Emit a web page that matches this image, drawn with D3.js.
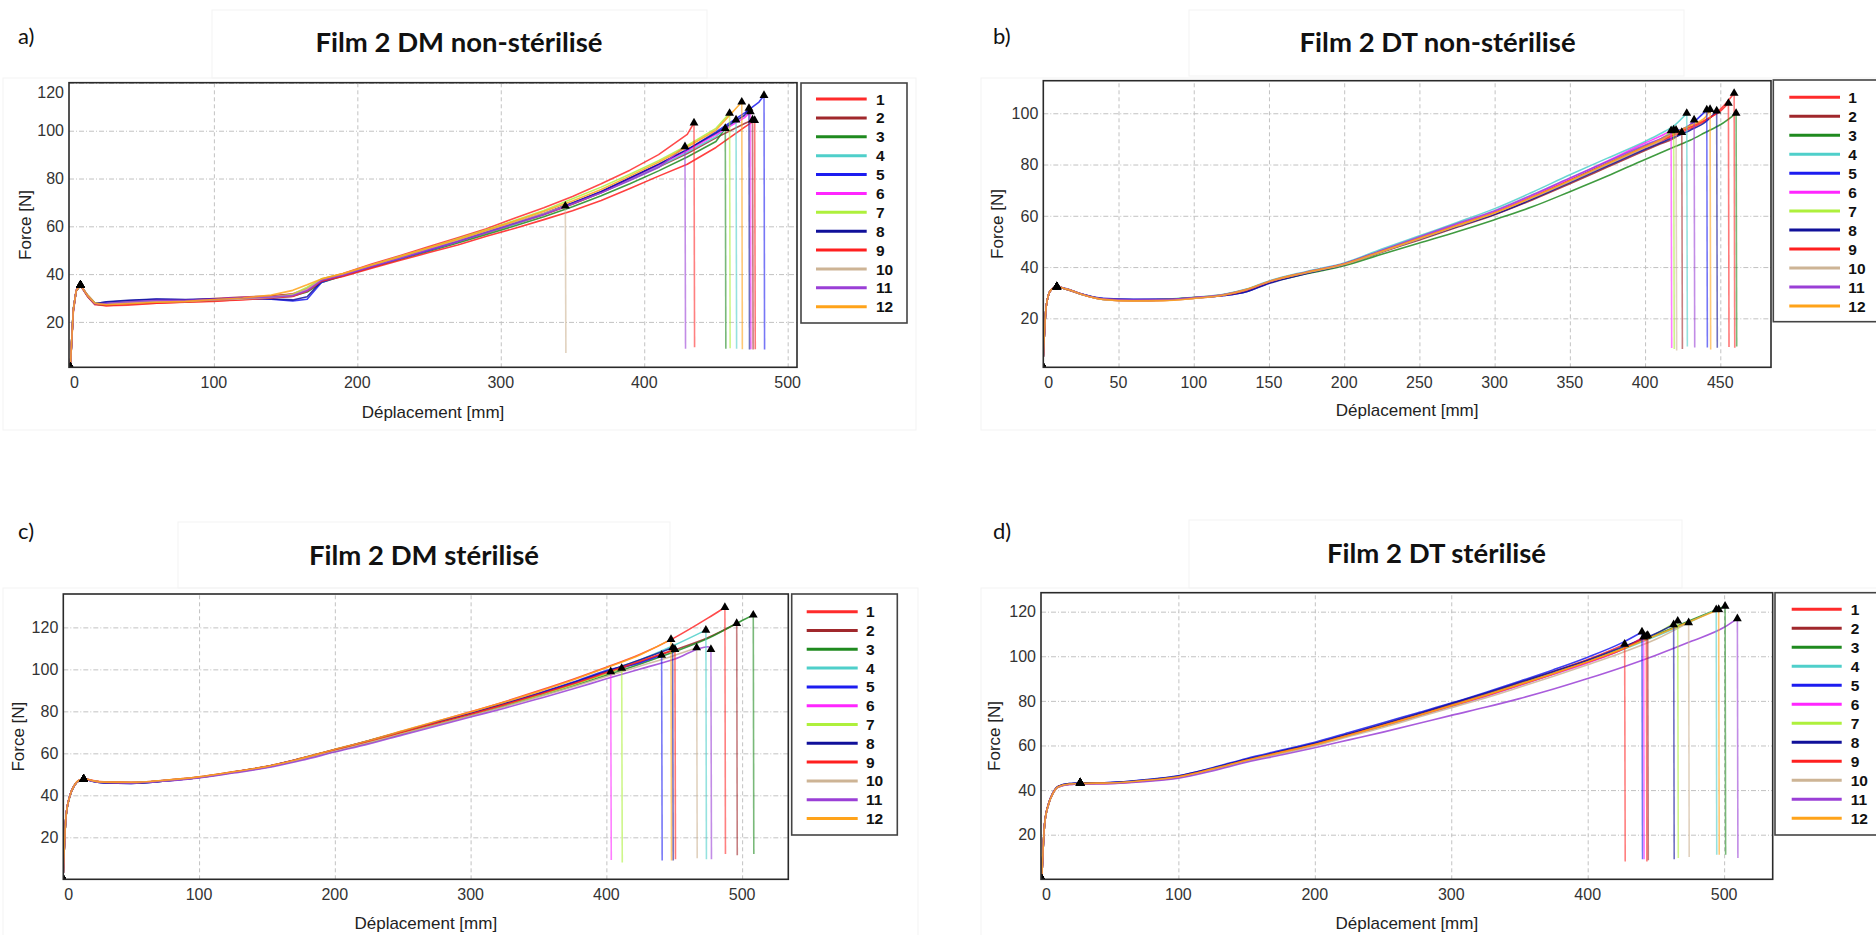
<!DOCTYPE html>
<html><head><meta charset="utf-8">
<script src="https://cdn.jsdelivr.net/npm/d3@7"></script>
<style>body{margin:0;background:#fff}svg{display:block}</style>
</head><body><svg id="c" width="1876" height="935"></svg>
<script>
// ---------- DATA ----------
const seriesNames = ['1','2','3','4','5','6','7','8','9','10','11','12'];
const colors = ['#ff2b2b','#a0282c','#1f8a1f','#4fcfca','#1c1cf0','#ff26ff','#aef03c','#10109a','#ff1f1f','#cdb495','#9a3fd6','#ffa31a'];

// Panel a : Film 2 DM non-stérilisé
const aTitle = 'Film 2 DM non-stérilisé';
const aXTicks = [0,100,200,300,400,500];
const aYTicks = [20,40,60,80,100,120];
const aX = [0,2,4,7,12,17,25,40,60,80,100,120,140,155,165,175,190,210,230,250,270,290,310,330,350,370,390,410,430,450,470,480];
const aF = [
 [1.5,24,33,35.2,30.5,27.2,26.8,27,27.8,28.3,28.6,29.5,30.8,31.8,34,37.8,40.2,44.2,47.8,51.5,55.2,59,63.5,67.8,72.5,77.8,83.5,90,98.5],
 [2,25,33.2,35.4,31.2,28,27.6,28.2,28.4,29,29.8,30.4,30.8,31.5,33.5,37.2,39.8,43.5,47.2,50.5,53.5,57.2,61,64.8,69.2,74,79.5,84.8,90.5,97,103],
 [2,25.5,33,35.3,31,27.5,27,27.8,28.2,28.6,29.2,29.8,30.2,30.8,32.5,36.5,39.2,42.8,46.2,49.6,53,56.6,60.2,64,68.2,72.8,77.8,83.2,89,95.5],
 [2,25,32.8,35.2,30.8,27.4,27.2,27.6,28.2,28.4,29,29.6,30,30.8,33.2,37,39.6,43,46.6,50,53.6,57.4,61,65.2,69.8,74.2,79.5,85,91,97.5],
 [2,24.8,33,35.4,31,27.8,28.2,28.8,29.5,29.2,29.5,29.8,29.5,28.8,29.5,36.5,39.5,43,46.5,50,53.8,57.8,61.5,65.2,69.8,74.5,80.2,85.8,92,99.5,107.5,112],
 [2,25,33.2,35.5,31,27.6,27.4,28,28.8,29,29.6,30.2,30.5,31.2,33.5,37.5,39.4,43.2,46.8,50.2,53.8,57.6,61.4,65.2,69.6,74.4,80,85.6,91.6,98.4,105.5],
 [2,25,33,35.3,31.2,28,27.6,28.4,28.6,28.5,29,29.6,30.4,31.6,34.5,38,40,43.8,47.5,51,54.8,58.6,62.5,66.6,71.5,76.4,81.8,87.5,93.8,101],
 [2,25,33,35.4,30.8,27.6,28.4,29,29.6,29.4,29.6,30,29.6,29.2,30.5,37,39.6,43.2,46.8,50.2,53.8,57.6,61.4,65.4,69.8,74.6,80.2,86,92.2,99,106.5],
 [2,24.8,33,35.3,30.8,27.5,26.8,27.4,27.8,28.2,28.8,29.2,30,30.6,32.8,37,39,42.5,45.8,49,52.2,55.8,59.2,62.8,66.5,70.8,75.8,81,86,93,101.5],
 [2,25,33,35.4,31,27.8,27.4,27.8,28.4,28.6,29.2,29.6,30.2,31.2,33.8,37.6,39.8,43.6,47,50.6,54.2,58,61.8,65.5],
 [2,25,33,35.4,31,27.6,27.8,28.4,29,29,29.4,30,30.4,31,33,37.4,39.6,43.2,46.6,50.2,53.6,57.4,61.2,65,69.4,74,79.2,84.6],
 [2,25,33,35.4,31,27.8,27.2,27.6,28.2,28.6,29.4,30,31.2,33.2,35.5,38,40.2,43.8,47.4,51,54.6,58.4,62.2,66.2,70.6,75.4,81,86.8,93.2,100.2]
];
const aBreak = [[434.7,103.3],[475.5,104.5],[456.5,101],[464,104.5],[483.5,114.8],[474,108],[459.5,107.3],[473,109.4],[477,104.3],[345,68.5],[428.4,93.3],[468,112]];
const aDropEnd = [9.4,8.5,8.8,8.8,8.5,8.6,9,8.5,8.6,7,8.8,8.6];
const aYield = [7,35.4];

// Panel b : Film 2 DT non-stérilisé
const bTitle = 'Film 2 DT non-stérilisé';
const bXTicks = [0,50,100,150,200,250,300,350,400,450];
const bYTicks = [20,40,60,80,100];
const bX = [0,2,5,9,15,25,40,60,80,100,120,135,150,175,200,225,250,275,300,325,350,375,400,410,420,430,440,450];
const bF = [
 [5,25,31,32.3,31.4,29.4,27.5,27,27.2,28,29.2,31.2,34.2,37.8,41,46,51,56,61,67,73.5,80,86.5,89,91.5,94,97,101.5],
 [5,25,31,32.3,31.5,29.6,27.6,27.1,27.3,28.1,29.2,31,34,37.6,40.8,45.8,50.6,55.5,60.4,66.2,72.5,79,85.5,88,90.5],
 [5,25,31,32.2,31.4,29.4,27.4,27,27.2,28,29.2,31,33.9,37.4,40.5,45,49.4,53.8,58.5,63.5,69.4,75.5,82,84.5,87,89.5,92.5,95.5],
 [5,25,31,32.3,31.5,29.5,27.6,27.2,27.4,28.2,29.4,31.4,34.6,38.3,41.6,47,52.2,57.4,62.8,69.2,76,82.5,89,92,95.5],
 [5,25,31,32.3,31.6,29.6,27.8,27.4,27.4,28,28.9,30.4,33.8,37.8,41.2,46.4,51.2,56.2,61.2,67.4,74,80.5,87.2,89.8,92.6,95.5],
 [5,25,31,32.3,31.5,29.5,27.5,27,27.2,28,29.2,31.1,34.2,37.9,41.2,46.2,51.4,56.6,61.6,67.8,74.5,81.4,88.4,91],
 [5,25,31,32.3,31.5,29.5,27.5,27.1,27.3,28.1,29.3,31.2,34.3,37.9,41.1,46.1,51.1,56.1,61.1,67.1,73.6,80.2,86.8,89.8],
 [5,25,31,32.3,31.5,29.5,27.6,27.3,27.4,28,28.9,30.4,33.6,37.5,41,46.2,51,55.8,60.6,66.5,73,79.5,86,88.4,90.8,93.4,96.5],
 [5,25,31,32.3,31.5,29.5,27.4,26.8,27,27.8,29,31,34.2,37.9,41.2,46.2,51.2,56.2,61.2,67.2,73.8,80.3,86.8,89.4,92,94.6,97.4,100.8],
 [5,25,31,32.3,31.5,29.4,27.3,26.8,27,27.8,29.1,31.2,34.3,37.8,41,46,51,56,61,67,73.4,80,86.6,89.2],
 [5,25,31,32.3,31.5,29.6,27.6,27.2,27.3,28.1,29.3,31.2,34.4,38.1,41.4,46.6,51.8,57,62,68.2,74.8,81.2,87.6,90,92.6,95.6],
 [5,25,31,32.3,31.5,29.5,27.4,26.8,26.9,27.8,29.1,31.2,34.4,38,41.2,46.2,51.2,56.2,61.2,67.3,73.8,80.4,87,89.6,92.4,95.2,98.4]
];
const bBreak = [[459.2,107.8],[424.4,92.5],[460.5,100],[427.7,100],[441,101.3],[417.3,93.2],[419,93.5],[447.6,100.9],[455.4,103.9],[420.6,93.4],[432.6,97.4],[443.2,101.5]];
const bDropEnd = [8.5,8,9,9,8.6,8.4,8,8.5,8.8,7.5,8.6,7.8];
const bYield = [9,32.3];

// Panel c : Film 2 DM stérilisé
const cTitle = 'Film 2 DM stérilisé';
const cXTicks = [0,100,200,300,400,500];
const cYTicks = [20,40,60,80,100,120];
const cX = [0,2,5,8,12,16,22,30,50,75,100,125,150,175,200,225,250,275,300,325,350,375,400,425,450,475,500];
const cF = [
 [3,30,40.2,44.6,47.3,47.8,47,46.4,46.2,47.2,48.8,51.2,53.8,57.6,61.8,66,70.6,75.2,79.8,84.6,89.8,95.2,101,107.2,115,124.5],
 [3,30,40,44.5,47.2,47.7,46.8,46.2,46,47,48.6,51,53.6,57.2,61.3,65.4,69.8,74.2,78.6,83.2,87.9,92.8,98,103.5,109.2,115.2],
 [3,29.5,39.8,44.4,47.1,47.6,46.7,46.1,45.9,46.9,48.5,50.9,53.4,57,61,65,69.4,73.8,78.2,82.6,87.2,92,97.2,102.6,108.4,114.8,123.3],
 [3,30,40,44.5,47.2,47.7,46.8,46.2,46.1,47.1,48.7,51.1,53.7,57.4,61.6,65.7,70.2,74.6,78.8,83.4,88.2,93.4,99,104.6,111.5],
 [3,30.2,40.2,44.6,47.2,47.6,46.6,45.9,45.7,46.8,48.5,51,53.7,57.5,61.8,66,70.4,74.8,79,83.8,88.6,93.8,99.5,103.2],
 [3,30,40,44.5,47.2,47.7,46.8,46.2,46,47,48.6,51,53.6,57.3,61.5,65.6,70.1,74.6,78.8,83.4,88.2,93.2,98.4],
 [3,29.8,39.9,44.4,47.1,47.6,46.8,46.2,46,47,48.6,51,53.6,57.2,61.4,65.4,69.8,74.2,78.5,83,87.6,92.6,98],
 [3,30,40,44.5,47.2,47.6,46.6,45.9,45.7,46.8,48.5,51,53.7,57.5,61.8,66,70.4,74.8,79,83.6,88.4,93.5,99,104.6],
 [3,30,40,44.5,47.2,47.7,46.9,46.3,46.1,47.1,48.7,51.1,53.7,57.4,61.6,65.6,70,74.4,78.6,83.2,88,93,98.5,104],
 [3,30,40,44.5,47.2,47.7,46.8,46.2,46,47,48.5,50.8,53.4,57,61,65,69.3,73.6,77.8,82.2,86.8,91.6,96.6,101.6,106.6],
 [3,30,40,44.5,47.1,47.6,46.7,46.1,45.9,46.8,48.3,50.6,53.1,56.6,60.6,64.5,68.8,73,77.3,81.5,86,90.6,95.5,100.2,104.8,110.8],
 [3,30,40.1,44.6,47.3,47.8,46.9,46.3,46.2,47.2,48.8,51.2,53.8,57.6,61.9,66.1,70.7,75.3,79.7,84.4,89.4,94.8,100.8,107]
];
const cBreak = [[487.3,129.5],[496,121.9],[508.2,125.9],[473.3,118.7],[440.7,106.8],[403.2,98.9],[411.3,100.5],[448.8,110.3],[450.5,109.5],[466.5,110.3],[477,109.5],[447.6,114.3]];
const cDropEnd = [12,11.5,12,9.5,9,9.2,8,9,9.5,10,9.5,9];
const cYield = [15,47.7];

// Panel d : Film 2 DT stérilisé
const dTitle = 'Film 2 DT stérilisé';
const dXTicks = [0,100,200,300,400,500];
const dYTicks = [20,40,60,80,100,120];
const dX = [0,2,5,8,12,20,30,50,75,100,125,150,175,200,225,250,275,300,325,350,375,400,425,450,475,500];
const dF = [
 [2,25,34,38.5,41.5,42.7,43,43.2,44.3,46,49.5,53.5,57,60.6,65,69.3,73.8,78.4,83,88,93.2,98.5,104.8],
 [2,25.2,34.2,38.6,41.6,42.8,43.1,43.3,44.3,46,49.4,53.4,56.9,60.4,64.7,68.9,73.3,77.8,82.3,87.2,92.2,97.8,103.4],
 [2,25,34,38.5,41.5,42.7,43,43.2,44.2,45.9,49.3,53.3,56.8,60.3,64.6,68.8,73.3,77.8,82.4,87.4,92.4,97.6,103.2,109.6,116],
 [2,24.8,33.8,38.4,41.4,42.6,42.9,43.1,44.2,45.8,49.2,53.1,56.6,60.1,64.4,68.6,73,77.5,82,87,92,97.2,102.8,109,115.4],
 [2,25,34,38.6,41.6,42.9,43.2,43.4,44.6,46.4,50,54.2,57.8,61.4,65.8,70.2,74.6,79,83.8,88.8,94,99.6,106],
 [2,25,34,38.5,41.4,42.5,42.8,43,44,45.7,49.2,53.2,56.7,60.2,64.5,68.8,73.2,77.6,82,86.9,91.9,97,103],
 [2,25,34,38.5,41.5,42.7,43,43.2,44.3,46,49.4,53.3,56.8,60.4,64.7,68.9,73.4,77.9,82.5,87.4,92.5,97.8,103.6,110],
 [2,25.2,34.2,38.7,41.7,42.9,43.2,43.4,44.5,46.3,49.8,53.8,57.4,61,65.3,69.6,74.1,78.8,83.4,88.3,93.2,98.2,104,110.2],
 [2,25,34,38.5,41.5,42.6,42.9,43.1,44.2,45.9,49.4,53.4,56.9,60.4,64.7,68.9,73.3,77.8,82.3,87.2,92.2,97.4,103],
 [2,24.8,33.8,38.3,41.3,42.5,42.8,43,44,45.6,49,52.9,56.3,59.8,64,68.1,72.5,76.9,81.3,86.1,91,96.2,101.6,107.6],
 [2,25,34,38.5,41.4,42.5,42.8,42.9,43.8,45.3,48.6,52.5,55.7,59,62.5,66,69.7,73.5,77.1,81,85.3,90,95,100.5,106.5,113],
 [2,25,34,38.5,41.5,42.7,43,43.2,44.3,46,49.5,53.4,56.9,60.4,64.6,68.9,73.3,77.8,82.4,87.3,92.3,97.5,103.1,109.3,115.6]
];
const dBreak = [[427.1,105.4],[444,109.4],[500.7,122.5],[494.2,120.9],[439.8,110.9],[441,108.7],[466,115.8],[463,114.2],[443,109],[474,115.1],[509.7,116.9],[496,121]];
const dDropEnd = [8,8.5,11,11,9,9,9.5,9,8,10,9.5,11];
const dYield = [28,43.2];

// ---------- LAYOUT ----------
const W = 1876, H = 935;
const svg = d3.select('#c');
svg.append('rect').attr('width',W).attr('height',H).attr('fill','#fff');

const panels = [
 {id:'a', title:aTitle, X:aX, F:aF, brk:aBreak, drop:aDropEnd, yld:aYield, xTicks:aXTicks, yTicks:aYTicks,
  xDom:[-1,506.5], yDom:[1,120.1], L:69, R:797, T:82.7, B:367.3, curve:d3.curveLinear,
  leg:{x0:801,x1:907,y0:83,y1:323,lx0:816,lx1:866.7,ly:99,step:18.88,tx:876},
  titlePos:[459,42.7], lab:'a)', labPos:[18,36.7], xTitleY:411.7, yTitleX:25,
  boxes:[[212,10,707,78],[3,78,916,430]]},
 {id:'b', title:bTitle, X:bX, F:bF, brk:bBreak, drop:bDropEnd, yld:bYield, xTicks:bXTicks, yTicks:bYTicks,
  xDom:[0,483.7], yDom:[0.9,112.7], L:1043.3, R:1771, T:80.7, B:367.3, curve:d3.curveMonotoneX,
  leg:{x0:1773.3,x1:1895,y0:80,y1:321.7,lx0:1789.3,lx1:1840,ly:97.3,step:18.97,tx:1848.3},
  titlePos:[1437.6,42.7], lab:'b)', labPos:[993,36.7], xTitleY:410, yTitleX:996.7,
  boxes:[[1189,10,1684,76],[981,78,1895,430]]},
 {id:'c', title:cTitle, X:cX, F:cF, brk:cBreak, drop:cDropEnd, yld:cYield, xTicks:cXTicks, yTicks:cYTicks,
  xDom:[0,534], yDom:[0,135.9], L:63.3, R:788.3, T:594, B:879.3, curve:d3.curveMonotoneX,
  leg:{x0:791.7,x1:897.3,y0:594,y1:835,lx0:806.7,lx1:857.7,ly:611.7,step:18.8,tx:866},
  titlePos:[424,555], lab:'c)', labPos:[18,531.7], xTitleY:923.3, yTitleX:18.3,
  boxes:[[178,522,670,588],[3,588,918,940]]},
 {id:'d', title:dTitle, X:dX, F:dF, brk:dBreak, drop:dDropEnd, yld:dYield, xTicks:dXTicks, yTicks:dYTicks,
  xDom:[-0.7,535.6], yDom:[0,128.5], L:1041, R:1772.7, T:592.7, B:879.3, curve:d3.curveMonotoneX,
  leg:{x0:1775,x1:1895,y0:592.7,y1:835,lx0:1791.7,lx1:1841.7,ly:609.3,step:19,tx:1850.7},
  titlePos:[1436.5,553.3], lab:'d)', labPos:[993,531.7], xTitleY:923, yTitleX:994.3,
  boxes:[[1189,520,1682,588],[981,588,1895,940]]}
];

const tickFont = '"Liberation Sans", Arial, sans-serif';
const tri = d3.symbol().type(d3.symbolTriangle).size(34);

function drawPanel(p){
  const g = svg.append('g');
  p.boxes.forEach(b => g.append('rect').attr('x',b[0]).attr('y',b[1]).attr('width',b[2]-b[0]).attr('height',b[3]-b[1])
    .attr('fill','none').attr('stroke','#f3f3f3').attr('stroke-width',1));

  const x = d3.scaleLinear().domain(p.xDom).range([p.L,p.R]);
  const y = d3.scaleLinear().domain(p.yDom).range([p.B,p.T]);

  // grid
  const gx = g.append('g').attr('transform',`translate(0,${p.B})`)
    .call(d3.axisBottom(x).tickValues(p.xTicks.filter(v=>v>0)).tickSize(-(p.B-p.T)).tickFormat(''));
  gx.select('.domain').remove();
  gx.selectAll('line').attr('stroke','#c2c2c2').attr('stroke-dasharray','4,3').attr('stroke-width',1);
  const gy = g.append('g').attr('transform',`translate(${p.L},0)`)
    .call(d3.axisLeft(y).tickValues(p.yTicks).tickSize(-(p.R-p.L)).tickFormat(''));
  gy.select('.domain').remove();
  gy.selectAll('line').attr('stroke','#c2c2c2').attr('stroke-dasharray','5,2,1,2').attr('stroke-width',1);

  const cid = 'clip'+p.id;
  g.append('clipPath').attr('id',cid).append('rect').attr('x',p.L).attr('y',p.T).attr('width',p.R-p.L).attr('height',p.B-p.T);
  const plot = g.append('g').attr('clip-path',`url(#${cid})`);
  const line = d3.line().x(d=>x(d[0])).y(d=>y(d[1])).curve(p.curve);
  const straight = d3.line().x(d=>x(d[0])).y(d=>y(d[1]));

  p.F.forEach((vals,i)=>{
    const pts = vals.map((v,j)=>[p.X[j], v]);
    pts.push(p.brk[i]);
    plot.append('path').attr('d', line(pts)).attr('fill','none')
      .attr('stroke',colors[i]).attr('stroke-width',1.6).attr('stroke-opacity',0.85).attr('stroke-linejoin','round');
  });
  p.brk.forEach((b,i)=>{
    plot.append('path').attr('d', straight([b,[b[0]+0.4, p.drop[i]]])).attr('fill','none')
      .attr('stroke',colors[i]).attr('stroke-width',1.6).attr('stroke-opacity',0.6);
  });
  // markers
  p.F.forEach((vals,i)=>{
    plot.append('path').attr('d',tri).attr('transform',`translate(${x(p.X[0])},${y(p.yDom[0])})`).attr('fill','#000');
    plot.append('path').attr('d',tri).attr('transform',`translate(${x(p.yld[0])},${y(p.yld[1])})`).attr('fill','#000');
    plot.append('path').attr('d',tri).attr('transform',`translate(${x(p.brk[i][0])},${y(p.brk[i][1])})`).attr('fill','#000');
  });

  // frame
  g.append('rect').attr('x',p.L).attr('y',p.T).attr('width',p.R-p.L).attr('height',p.B-p.T)
    .attr('fill','none').attr('stroke','#2a2a2a').attr('stroke-width',1.6);

  // tick labels
  p.xTicks.forEach(v => g.append('text').attr('x', Math.max(x(v), p.L+5.5)).attr('y', p.B+21)
    .attr('text-anchor','middle').attr('font-family',tickFont).attr('font-size',16).attr('fill','#333').text(v));
  p.yTicks.forEach(v => g.append('text').attr('x', p.L-5).attr('y', Math.max(y(v), p.T+9.5)).attr('dy','0.36em')
    .attr('text-anchor','end').attr('font-family',tickFont).attr('font-size',16).attr('fill','#333').text(v));

  // axis titles
  g.append('text').attr('x',(p.L+p.R)/2).attr('y',p.xTitleY).attr('dy','0.36em').attr('text-anchor','middle')
    .attr('font-family',tickFont).attr('font-size',17).attr('fill','#222').text('Déplacement [mm]');
  g.append('text').attr('transform',`translate(${p.yTitleX},${(p.T+p.B)/2}) rotate(-90)`).attr('dy','0.36em').attr('text-anchor','middle')
    .attr('font-family',tickFont).attr('font-size',17).attr('fill','#222').text('Force [N]');

  // legend
  const lg = p.leg;
  g.append('rect').attr('x',lg.x0).attr('y',lg.y0).attr('width',lg.x1-lg.x0).attr('height',lg.y1-lg.y0)
    .attr('fill','#fff').attr('stroke','#444').attr('stroke-width',1.6);
  seriesNames.forEach((n,i)=>{
    const yy = lg.ly + i*lg.step;
    g.append('line').attr('x1',lg.lx0).attr('x2',lg.lx1).attr('y1',yy).attr('y2',yy)
      .attr('stroke',colors[i]).attr('stroke-width',3);
    g.append('text').attr('x',lg.tx).attr('y',yy).attr('dy','0.36em').attr('font-family',tickFont)
      .attr('font-weight','bold').attr('font-size',15.5).attr('fill','#111').text(n);
  });

  // title and panel label
  g.append('text').attr('x',p.titlePos[0]).attr('y',p.titlePos[1]).attr('dy','0.35em').attr('text-anchor','middle')
    .attr('font-family','Lato, "Open Sans", sans-serif').attr('font-weight','bold').attr('font-size',27.5).attr('fill','#111').text(p.title);
  g.append('text').attr('x',p.labPos[0]).attr('y',p.labPos[1]).attr('dy','0.35em')
    .attr('font-family','Lato, "Open Sans", sans-serif').attr('font-size',22).attr('fill','#111').text(p.lab);
}
panels.forEach(drawPanel);
</script>
</body></html>
